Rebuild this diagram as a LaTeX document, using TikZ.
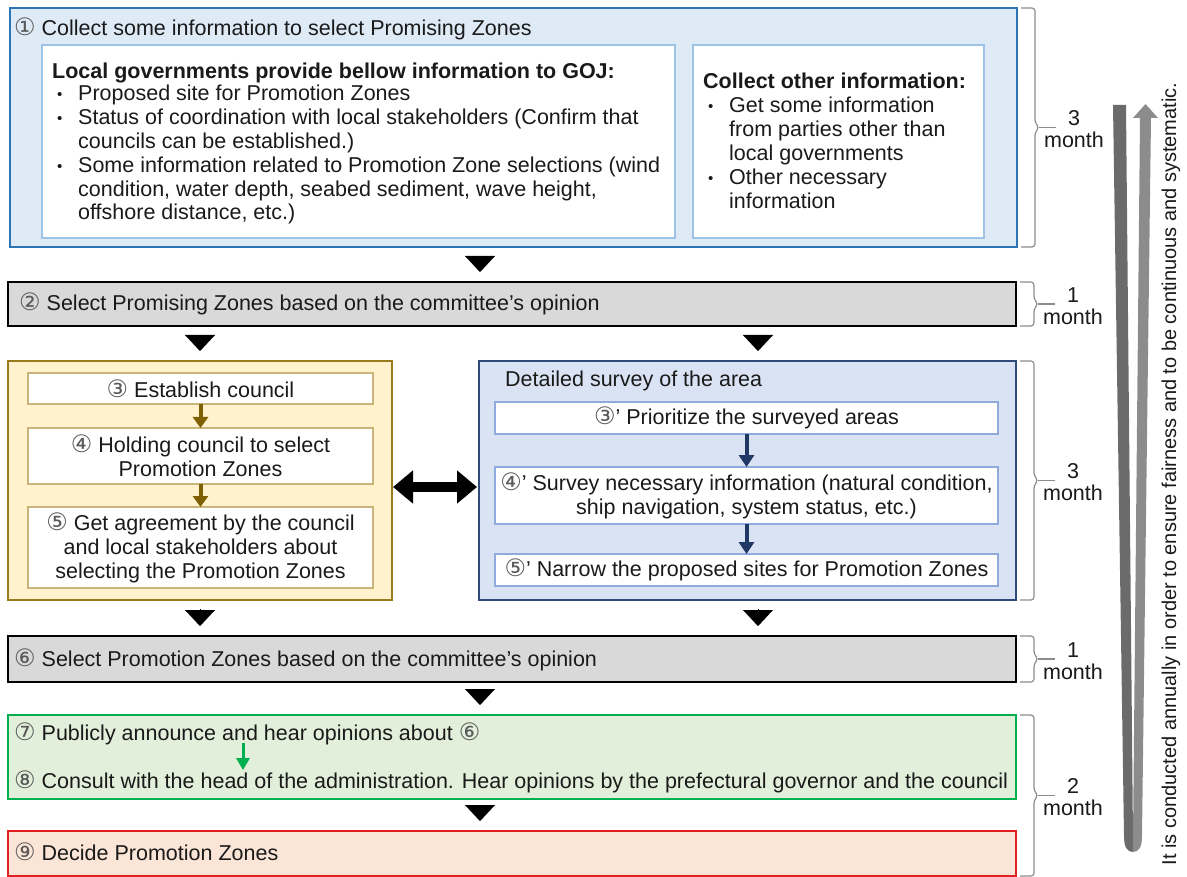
\documentclass[tikz,border=0pt]{standalone}
\usepackage{fontspec}
\setmainfont{Liberation Sans}
\newfontfamily\circfont{DejaVu Sans}
\usetikzlibrary{arrows.meta,calc}

\definecolor{oneFill}{HTML}{DEEBF7}
\definecolor{oneDraw}{HTML}{2E75B6}
\definecolor{oneInner}{HTML}{9DC3E6}
\definecolor{grayFill}{HTML}{D9D9D9}
\definecolor{councilFill}{HTML}{FFF2CC}
\definecolor{councilDraw}{HTML}{9C7B1E}
\definecolor{councilInner}{HTML}{C9B47A}
\definecolor{councilArrow}{HTML}{7F6000}
\definecolor{surveyFill}{HTML}{DAE3F3}
\definecolor{surveyDraw}{HTML}{2F4B7C}
\definecolor{surveyInner}{HTML}{8FAADC}
\definecolor{surveyArrow}{HTML}{203864}
\definecolor{greenFill}{HTML}{E2EFDA}
\definecolor{greenDraw}{HTML}{00B050}
\definecolor{redFill}{HTML}{FBE5D6}
\definecolor{redDraw}{HTML}{E02020}
\definecolor{braceGray}{HTML}{8C8C8C}
\definecolor{loopDark}{HTML}{6B6B6B}
\definecolor{loopLight}{HTML}{8C8C8C}
\definecolor{ink}{HTML}{1A1A1A}

% circled step numbers and small bullets
\newcommand\cn[1]{{\circfont\fontsize{24}{24}\selectfont\color{black!65}#1}}
\newcommand\bul{\makebox[21pt][l]{\raisebox{1pt}{\fontsize{15}{15}\selectfont\textbullet}}}

% bracket with a duration label on the right of a stage
\newcommand\monthbrace[4]{% #1 top point, #2 bottom point, #3 number, #4 name
  \coordinate (#4top) at ($(#1)+(4,0)$);
  \coordinate (#4bot) at ($(#2)+(4,0)$);
  \coordinate (#4mid) at ($(#4top)!0.5!(#4bot)+(18,0)$);
  \draw[brace] (#4top) -| ($(#4mid)+(-4,-5)$) -- (#4mid) -- ($(#4mid)+(-4,5)$) |- (#4bot);
  \draw[brace] (#4mid) -- ++(17,0) coordinate (#4end);
  \node[monthlbl] (#4lbl) at ($(#4end)+(18,2)$) {#3\\month};
}

\begin{document}
\begin{tikzpicture}[x=1pt,y=-1pt,
  every node/.style={font=\fontsize{21.5}{24}\selectfont, text=ink},
  box/.style={rectangle, inner sep=0pt, outer sep=0pt},
  stageone/.style={box, fill=oneFill, draw=oneDraw, line width=2pt},
  infobox/.style={box, fill=white, draw=oneInner, line width=1.2pt},
  graystage/.style={box, fill=grayFill, draw=black, line width=2.5pt},
  council/.style={box, fill=councilFill, draw=councilDraw, line width=2pt},
  councilstep/.style={box, fill=white, draw=councilInner, line width=1.2pt, align=center},
  survey/.style={box, fill=surveyFill, draw=surveyDraw, line width=2pt},
  surveystep/.style={box, fill=white, draw=surveyInner, line width=1.2pt, align=center},
  greenstage/.style={box, fill=greenFill, draw=greenDraw, line width=2pt},
  redstage/.style={box, fill=redFill, draw=redDraw, line width=2pt},
  lbl/.style={anchor=base west, inner sep=0pt},
  boldlbl/.style={lbl, font=\fontsize{21.5}{24}\selectfont\bfseries},
  monthlbl/.style={align=center, inner sep=0pt, font=\fontsize{21.5}{22}\selectfont},
  brace/.style={draw=braceGray, line width=1.2pt, rounded corners=3pt},
  flowtri/.style={line width=0.1pt, shorten <=9pt, shorten >=10pt, -{Triangle[length=16pt,width=30pt]}},
  councilarr/.style={draw=councilArrow, line width=4pt, -{Triangle[length=11pt,width=15pt]}},
  surveyarr/.style={draw=surveyArrow, line width=4pt, -{Triangle[length=12pt,width=15pt]}},
  greenarr/.style={draw=greenDraw, line width=3pt, -{Triangle[length=12pt,width=13pt]}},
  linkarr/.style={line width=10pt, {Triangle[length=20pt,width=32pt]}-{Triangle[length=20pt,width=32pt]}}
]
\useasboundingbox (0,0) rectangle (1187,877);

% ---- stage 1: collect information
\node[stageone, minimum width=1007pt, minimum height=239pt] (s1) at (513.5,127.5) {};
\node[infobox, minimum width=633pt, minimum height=193pt] (lg) at (358.5,141.5) {};
\node[infobox, minimum width=291pt, minimum height=193pt] (oi) at (838.5,141.5) {};
\node[lbl] (s1t) at (14,36) {\cn{①} Collect some information to select Promising Zones};

\node[boldlbl] (lgh) at (52,79) {Local governments provide bellow information to GOJ:};
\node[lbl] (lga) at (57,101) {\bul Proposed site for Promotion Zones};
\node[lbl] (lgb) at (57,125) {\bul Status of coordination with local stakeholders (Confirm that};
\node[lbl] (lgc) at (78,149) {councils can be established.)};
\node[lbl] (lgd) at (57,173) {\bul Some information related to Promotion Zone selections (wind};
\node[lbl] (lge) at (78,197) {condition, water depth, seabed sediment, wave height,};
\node[lbl] (lgf) at (78,220) {offshore distance, etc.)};

\node[boldlbl] (oih) at (703,89) {Collect other information:};
\node[lbl] (oia) at (708,113) {\bul Get some information};
\node[lbl] (oib) at (729,137) {from parties other than};
\node[lbl] (oic) at (729,161) {local governments};
\node[lbl] (oid) at (708,185) {\bul Other necessary};
\node[lbl] (oie) at (729,209) {information};

% ---- stage 2
\node[graystage, minimum width=1008pt, minimum height=44pt] (s2) at (512,304) {};
\node[lbl] (s2t) at (19,311) {\cn{②} Select Promising Zones based on the committee's opinion};

% ---- council branch
\node[council, minimum width=384pt, minimum height=239pt] (cl) at (200,480.5) {};
\node[councilstep, minimum width=345pt, minimum height=31pt] (c3) at (200.5,388.5) {\cn{③} Establish council};
\node[councilstep, minimum width=345pt, minimum height=56pt] (c4) at (200.5,456) {\cn{④} Holding council to select\\Promotion Zones};
\node[councilstep, minimum width=345pt, minimum height=81pt] (c5) at (200.5,547.5) {\cn{⑤} Get agreement by the council\\and local stakeholders about\\selecting the Promotion Zones};
\draw[councilarr] (c3) -- (c4);
\draw[councilarr] (c4) -- (c5);

% ---- survey branch
\node[survey, minimum width=537pt, minimum height=239pt] (sv) at (747.5,480.5) {};
\node[lbl] (svt) at (505,387) {Detailed survey of the area};
\node[surveystep, minimum width=503pt, minimum height=32pt] (v3) at (746.5,418) {\cn{③}' Prioritize the surveyed areas};
\node[surveystep, minimum width=503pt, minimum height=57pt] (v4) at (746.5,495.5) {\cn{④}' Survey necessary information (natural condition,\\ship navigation, system status, etc.)};
\node[surveystep, minimum width=503pt, minimum height=32pt] (v5) at (746.5,570) {\cn{⑤}' Narrow the proposed sites for Promotion Zones};
\draw[surveyarr] (v3) -- (v4);
\draw[surveyarr] (v4) -- (v5);

\draw[linkarr] ($(cl.east)+(1,6.5)$) -- ($(sv.west)+(-2,6.5)$);

% ---- stage 6
\node[graystage, minimum width=1008pt, minimum height=46pt] (s6) at (512,659) {};
\node[lbl] (s6t) at (14,666) {\cn{⑥} Select Promotion Zones based on the committee's opinion};

% ---- stages 7 and 8
\node[greenstage, minimum width=1008pt, minimum height=84pt] (s7) at (512,757) {};
\node[lbl] (s7t) at (14,740) {\cn{⑦} Publicly announce and hear opinions about \cn{⑥}};
\node[lbl] (s8t) at (14,788) {\cn{⑧} Consult with the head of the administration. Hear opinions by the prefectural governor and the council};
\coordinate (gx) at (243,0);
\draw[greenarr] ($(s7t.south -| gx)+(0,-2)$) -- ($(s8t.north -| gx)+(0,0)$);

% ---- stage 9
\node[redstage, minimum width=1008pt, minimum height=45pt] (s9) at (512,853.5) {};
\node[lbl] (s9t) at (14,860) {\cn{⑨} Decide Promotion Zones};

% ---- flow markers between stages
\coordinate (mx) at (480,0);
\coordinate (rx) at (758,0);
\draw[flowtri] (s1.south -| mx) -- (s2.north -| mx);
\draw[flowtri] (s2.south -| cl) -- (cl.north);
\draw[flowtri] (s2.south -| rx) -- (sv.north -| rx);
\draw[flowtri] (cl.south) -- (s6.north -| cl);
\draw[flowtri] (sv.south -| rx) -- (s6.north -| rx);
\draw[flowtri] (s6.south -| mx) -- (s7.north -| mx);
\draw[flowtri] (s7.south -| mx) -- (s9.north -| mx);

% ---- durations
\monthbrace{s1.north east}{s1.south east}{3}{ba}
\monthbrace{s2.north east}{s2.south east}{1}{bb}
\monthbrace{sv.north east}{sv.south east}{3}{bc}
\monthbrace{s6.north east}{s6.south east}{1}{bd}
\monthbrace{s7.north east}{s9.south east}{2}{be}

% ---- yearly loop arrow
\fill[loopDark] (1113,105) -- (1126,105) -- (1133,838) -- (1133,852)
  .. controls (1127,852) and (1124,847) .. (1124,836) -- cycle;
\fill[loopLight] (1140,117) -- (1151,117) -- (1142,836)
  .. controls (1142,847) and (1139,852) .. (1133,852) -- (1133,838) -- cycle;
\fill[loopLight] (1133,118) -- (1145.5,104) -- (1158,118) -- cycle;
\node[rotate=90, inner sep=0pt, font=\fontsize{20}{24}\selectfont] (loopnote) at (1171,474)
  {It is conducted annually in order to ensure fairness and to be continuous and systematic.};
\end{tikzpicture}
\end{document}
